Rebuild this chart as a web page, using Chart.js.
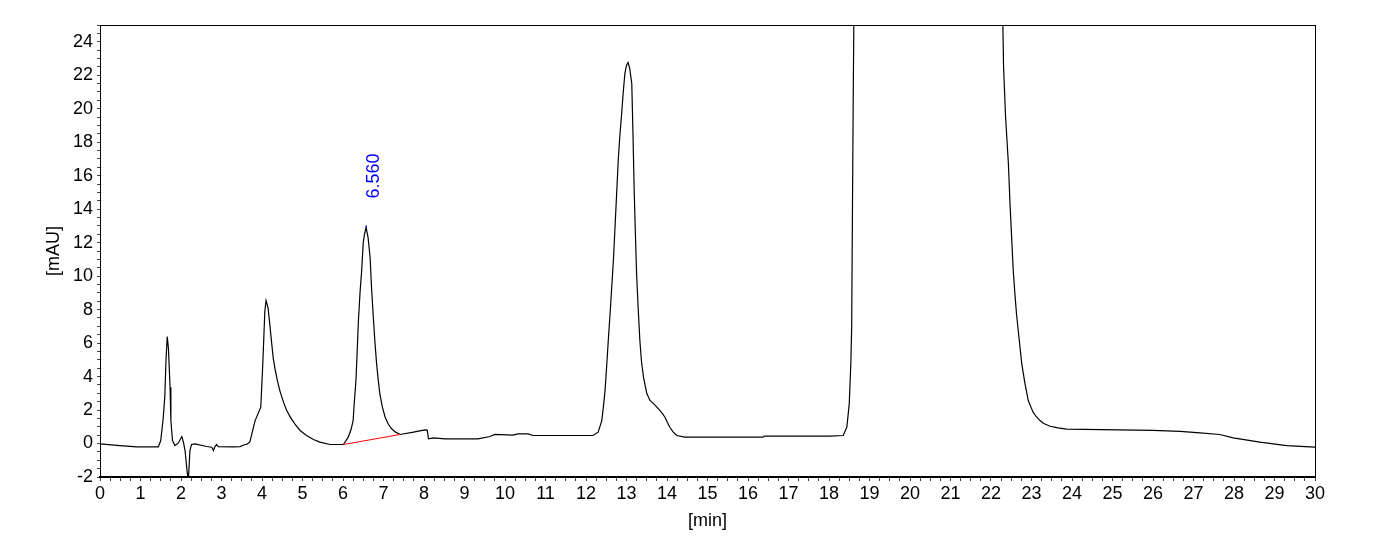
<!DOCTYPE html>
<html>
<head>
<meta charset="utf-8">
<script src="https://cdn.jsdelivr.net/npm/chart.js@4/dist/chart.umd.min.js"></script>
<style>
  html, body { margin: 0; padding: 0; background: #fff; }
  #wrap { position: relative; width: 1398px; height: 559px; }
</style>
</head>
<body>
<div id="wrap"><canvas id="myChart"></canvas></div>
<script>
// retention times [min] and detector signal [mAU]
const times = [
  0.00, 0.49, 0.91, 1.44, 1.50, 1.56, 1.60, 1.63, 1.66, 1.69, 1.73, 1.75, 1.79, 1.85, 1.93,
  2.02, 2.06, 2.10, 2.14, 2.18, 2.22, 2.26, 2.35, 2.63, 2.76, 2.80, 2.84, 2.88, 2.92, 3.29,
  3.46, 3.58, 3.62, 3.70, 3.83, 3.97, 4.02, 4.07, 4.10, 4.15, 4.20, 4.24, 4.28, 4.32, 4.38,
  4.44, 4.53, 4.61, 4.71, 4.81, 4.94, 5.10, 5.27, 5.43, 5.68, 6.01, 6.13, 6.20, 6.25, 6.28,
  6.32, 6.35, 6.38, 6.42, 6.46, 6.50, 6.53, 6.57, 6.62, 6.67, 6.70, 6.75, 6.79, 6.83, 6.87,
  6.91, 6.97, 7.04, 7.12, 7.20, 7.30, 7.41, 7.74, 8.02, 8.08, 8.11, 8.23, 8.52, 9.33, 9.63,
  9.75, 10.20, 10.32, 10.57, 10.69, 12.17, 12.30, 12.39, 12.43, 12.47, 12.51, 12.55, 12.59, 12.63, 12.68,
  12.72, 12.76, 12.80, 12.84, 12.88, 12.92, 12.96, 13.00, 13.04, 13.08, 13.13, 13.16, 13.19, 13.22, 13.25,
  13.29, 13.33, 13.37, 13.42, 13.50, 13.58, 13.68, 13.79, 13.87, 13.95, 14.01, 14.07, 14.15, 14.24, 14.44,
  16.37, 16.40, 18.02, 18.35, 18.44, 18.50, 18.54, 18.56, 18.58, 18.60, 18.63, 20.40, 22.26, 22.31, 22.36,
  22.43, 22.47, 22.51, 22.55, 22.59, 22.63, 22.69, 22.76, 22.84, 22.92, 23.00, 23.04, 23.12, 23.21, 23.30,
  23.46, 23.65, 23.87, 26.00, 26.67, 27.16, 27.65, 27.98, 28.64, 29.30, 30.00
];
const signal = [
  -0.02, -0.12, -0.20, -0.20, 0.18, 1.50, 2.80, 5.00, 6.39, 5.67, 3.36, 1.37, 0.18, -0.12, 0.02,
  0.42, 0.08, -0.42, -1.41, -2.30, -0.42, -0.06, -0.02, -0.18, -0.22, -0.42, -0.18, -0.06, -0.18, -0.20,
  -0.18, -0.06, -0.06, 0.10, 1.37, 2.17, 4.80, 7.90, 8.54, 8.10, 6.94, 5.97, 5.06, 4.48, 3.76,
  3.16, 2.47, 1.97, 1.53, 1.17, 0.78, 0.48, 0.24, 0.08, -0.06, -0.06, 0.38, 0.85, 1.37, 2.50,
  3.76, 5.50, 7.30, 9.00, 10.30, 12.00, 12.50, 12.90, 12.30, 11.10, 9.50, 7.50, 6.00, 4.76, 3.80,
  2.97, 2.20, 1.57, 1.15, 0.88, 0.68, 0.54, 0.68, 0.82, 0.80, 0.28, 0.34, 0.28, 0.28, 0.42,
  0.54, 0.50, 0.58, 0.58, 0.48, 0.48, 0.68, 1.37, 2.20, 3.16, 4.60, 6.15, 7.60, 9.13, 11.10,
  13.10, 15.10, 17.10, 18.50, 19.70, 21.00, 22.10, 22.60, 22.76, 22.40, 21.50, 18.50, 15.10, 12.50, 10.10,
  8.00, 6.15, 4.90, 3.96, 3.00, 2.57, 2.35, 2.07, 1.85, 1.57, 1.25, 0.97, 0.70, 0.48, 0.38,
  0.38, 0.44, 0.44, 0.48, 0.97, 2.37, 4.85, 6.94, 14.30, 21.30, 30.00, 150.00, 30.00, 22.50, 19.50,
  16.70, 14.30, 12.30, 10.30, 8.94, 7.74, 6.35, 4.76, 3.56, 2.57, 2.10, 1.87, 1.60, 1.37, 1.20,
  1.03, 0.93, 0.86, 0.78, 0.72, 0.64, 0.54, 0.34, 0.08, -0.12, -0.22
];

// integration baseline under the labelled peak
const baselineTimes = [6.01, 7.41];
const baselineValues = [-0.06, 0.54];

const peakTime = 6.56;
const peakHeight = 12.9;
const peakLabel = '6.560';

const FONT = 'Liberation Sans, Arial, sans-serif';

const frame = {
  id: 'frame',
  afterDraw(chart) {
    const { ctx, chartArea: a, scales } = chart;
    ctx.save();
    ctx.strokeStyle = '#000';
    ctx.lineWidth = 1;
    ctx.strokeRect(a.left + 0.5, a.top + 0.5, a.right - a.left, a.bottom - a.top);
    // peak marker and retention time label
    const px = scales.x.getPixelForValue(peakTime);
    const py = scales.y.getPixelForValue(peakHeight);
    ctx.strokeStyle = '#0000ff';
    ctx.beginPath();
    ctx.moveTo(px + 0.5, py - 2);
    ctx.lineTo(px + 0.5, py + 1);
    ctx.stroke();
    ctx.translate(px + 8, py - 29);
    ctx.rotate(-Math.PI / 2);
    ctx.fillStyle = '#0000ff';
    ctx.font = '18px ' + FONT;
    ctx.textAlign = 'left';
    ctx.textBaseline = 'middle';
    ctx.fillText(peakLabel, 0, 0);
    ctx.restore();
  }
};

new Chart(document.getElementById('myChart'), {
  type: 'line',
  data: {
    datasets: [{
      label: 'trace',
      data: times.map((t, i) => ({ x: t, y: signal[i] })),
      borderColor: '#000',
      borderWidth: 1.2,
      pointRadius: 0,
      tension: 0,
      order: 2
    }, {
      label: 'baseline',
      data: baselineTimes.map((t, i) => ({ x: t, y: baselineValues[i] })),
      borderColor: '#ff0000',
      borderWidth: 1,
      pointRadius: 0,
      order: 1
    }]
  },
  options: {
    responsive: true,
    maintainAspectRatio: false,
    animation: false,
    events: [],
    layout: { padding: { top: 25, right: 83, left: 0, bottom: 0 } },
    plugins: {
      legend: { display: false },
      tooltip: { enabled: false }
    },
    scales: {
      x: {
        type: 'linear',
        min: 0,
        max: 30,
        afterFit: (s) => { s.height = 82; },
        border: { display: true, color: '#000', width: 2 },
        grid: { drawOnChartArea: false, tickLength: 4, tickColor: '#444' },
        ticks: {
          stepSize: 0.25,
          autoSkip: false,
          maxRotation: 0,
          padding: 2,
          color: '#000',
          font: { family: FONT, size: 18 },
          callback: (v) => Number.isInteger(v) ? String(v) : ''
        },
        title: {
          display: true,
          text: '[min]',
          color: '#000',
          font: { family: FONT, size: 18 },
          padding: { top: 0, bottom: 27 }
        }
      },
      y: {
        min: -2,
        max: 25,
        afterFit: (s) => { s.width = 100; },
        border: { display: true, color: '#000', width: 1 },
        grid: { drawOnChartArea: false, tickLength: 3, tickColor: '#444' },
        ticks: {
          stepSize: 0.5,
          autoSkip: false,
          padding: 4,
          color: '#000',
          font: { family: FONT, size: 18 },
          callback: (v) => (v % 2 === 0) ? String(v) : ''
        },
        title: {
          display: true,
          text: '[mAU]',
          color: '#000',
          font: { family: FONT, size: 18 },
          padding: { top: 43, bottom: 0 }
        }
      }
    }
  },
  plugins: [frame]
});
</script>
</body>
</html>
